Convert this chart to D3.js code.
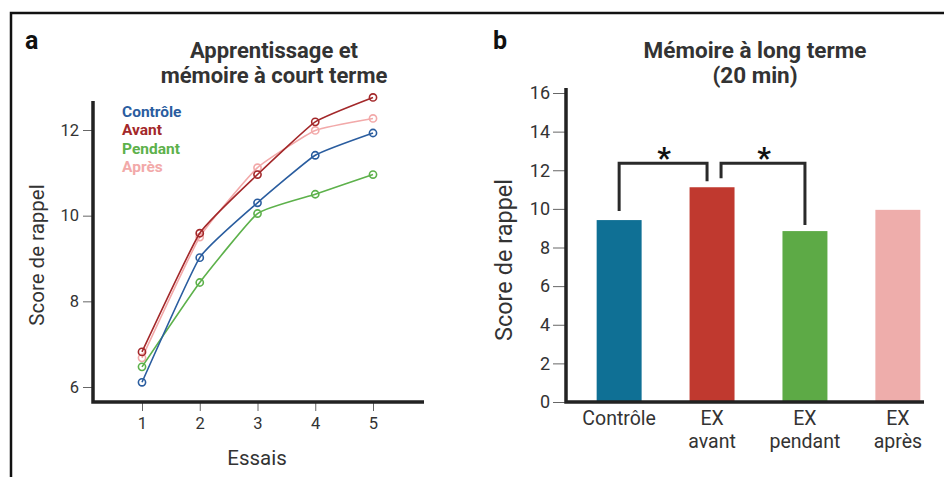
<!DOCTYPE html>
<html>
<head>
<meta charset="utf-8">
<script src="https://cdn.jsdelivr.net/npm/d3@7"></script>
<style>
  body { margin: 0; background: #fff; }
  text { font-family: Roboto, "Liberation Sans", sans-serif; }
</style>
</head>
<body>
<div id="chart"></div>
<script>
// ---- data ----
var trials = [1, 2, 3, 4, 5];
var seriesNames = ["Contrôle", "Avant", "Pendant", "Après"];
var seriesColors = ["#2a5d9f", "#a3282a", "#5db14b", "#f2a9a9"];
var controle = [6.11, 9.02, 10.30, 11.41, 11.93];
var avant    = [6.82, 9.59, 10.96, 12.19, 12.76];
var pendant  = [6.47, 8.44, 10.05, 10.50, 10.96];
var apres    = [6.68, 9.50, 11.12, 11.99, 12.27];
var yTicksA = [6, 8, 10, 12];

var groups = ["Contrôle", "EX avant", "EX pendant", "EX après"];
var groupLabels = [["Contrôle"], ["EX", "avant"], ["EX", "pendant"], ["EX", "après"]];
var groupValues = [9.42, 11.12, 8.85, 9.95];
var groupColors = ["#0f7095", "#c0392f", "#5daa46", "#eeadab"];
var yTicksB = [0, 2, 4, 6, 8, 10, 12, 14, 16];
var signif = [[0, 1], [1, 2]];

var svg = d3.select("#chart").append("svg")
    .attr("width", 944)
    .attr("height", 477);

// frame
svg.append("path")
    .attr("d", "M11,477 L11,13 L944,13")
    .attr("fill", "none")
    .attr("stroke", "#111")
    .attr("stroke-width", 2.5);

var ink = "#333";

//////////////////////////////////////////////
// PANEL A - line chart
//////////////////////////////////////////////
var gA = svg.append("g");

gA.append("text").attr("x", 25).attr("y", 49)
  .style("font-size", "25px").style("font-weight", "bold").attr("fill", "#111").text("a");

gA.append("text").attr("x", 274).attr("y", 58).attr("text-anchor", "middle")
  .style("font-size", "22px").style("font-weight", "bold").attr("fill", ink).text("Apprentissage et");
gA.append("text").attr("x", 274).attr("y", 83).attr("text-anchor", "middle")
  .style("font-size", "22px").style("font-weight", "bold").attr("fill", ink).text("mémoire à court terme");

var xA = d3.scaleLinear().domain([1, 5]).range([142, 373]);
var yA = d3.scaleLinear().domain([6, 12]).range([387, 130]);

// axes
var xAxisA = gA.append("g").attr("transform", "translate(0,402)")
    .call(d3.axisBottom(xA).tickValues(trials).tickFormat(d3.format("d")).tickSize(9).tickPadding(6));
var yAxisA = gA.append("g").attr("transform", "translate(92,0)")
    .call(d3.axisLeft(yA).tickValues(yTicksA).tickFormat(d3.format("d")).tickSize(9).tickPadding(4));
[xAxisA, yAxisA].forEach(function(ax) {
  ax.select(".domain").remove();
  ax.selectAll(".tick line").attr("stroke", "#666").attr("stroke-width", 1);
  ax.selectAll(".tick text").attr("fill", ink).style("font-size", "16.5px").style("font-family", "Roboto");
});

gA.append("path")
    .attr("d", "M93,101 L93,402 L424,402")
    .attr("fill", "none").attr("stroke", "#222").attr("stroke-width", 3.5);

gA.append("text").attr("x", 257).attr("y", 465).attr("text-anchor", "middle")
  .style("font-size", "20.5px").attr("fill", ink).text("Essais");
gA.append("text").attr("transform", "translate(44,255) rotate(-90)").attr("text-anchor", "middle")
  .style("font-size", "20.5px").attr("fill", ink).text("Score de rappel");

var seriesA = [controle, avant, pendant, apres];
var line = d3.line()
    .x(function(d, i) { return xA(trials[i]); })
    .y(function(d) { return yA(d); })
    .curve(d3.curveCardinal.tension(0.6));

// draw pink first so the darker lines sit on top
[3, 2, 0, 1].forEach(function(k) {
  var s = gA.append("g");
  s.append("path").datum(seriesA[k])
    .attr("d", line).attr("fill", "none")
    .attr("stroke", seriesColors[k]).attr("stroke-width", 1.6);
  s.selectAll("circle").data(seriesA[k]).enter().append("circle")
    .attr("cx", function(d, i) { return xA(trials[i]); })
    .attr("cy", function(d) { return yA(d); })
    .attr("r", 3.6)
    .attr("fill", "none")
    .attr("stroke", seriesColors[k]).attr("stroke-width", 1.6);
});

// legend
seriesNames.forEach(function(n, i) {
  gA.append("text").attr("x", 122).attr("y", 117 + i * 18.4)
    .style("font-size", "15.5px").style("font-weight", "bold")
    .attr("fill", seriesColors[i]).text(n);
});

//////////////////////////////////////////////
// PANEL B - bar chart
//////////////////////////////////////////////
var gB = svg.append("g");

gB.append("text").attr("x", 493).attr("y", 49)
  .style("font-size", "25px").style("font-weight", "bold").attr("fill", "#111").text("b");

gB.append("text").attr("x", 755).attr("y", 58).attr("text-anchor", "middle")
  .style("font-size", "22.5px").style("font-weight", "bold").attr("fill", ink).text("Mémoire à long terme");
gB.append("text").attr("x", 755).attr("y", 83).attr("text-anchor", "middle")
  .style("font-size", "22.5px").style("font-weight", "bold").attr("fill", ink).text("(20 min)");

var xB = d3.scaleBand().domain(groups).range([566, 951])
    .paddingInner(0.516).paddingOuter(0.33);
var yB = d3.scaleLinear().domain([0, 16]).range([402, 93]);

var yAxisB = gB.append("g").attr("transform", "translate(565,0)")
    .call(d3.axisLeft(yB).tickValues(yTicksB).tickSize(12).tickPadding(3));
yAxisB.select(".domain").remove();
yAxisB.selectAll(".tick line").attr("stroke", "#666").attr("stroke-width", 1);
yAxisB.selectAll(".tick text").attr("fill", ink).style("font-size", "18px").style("font-family", "Roboto");

gB.append("text").attr("transform", "translate(512,260) rotate(-90)").attr("text-anchor", "middle")
  .style("font-size", "23.5px").attr("fill", ink).text("Score de rappel");

gB.selectAll(".bar").data(groups).enter().append("rect")
    .attr("class", "bar")
    .attr("x", function(d) { return xB(d); })
    .attr("width", xB.bandwidth())
    .attr("y", function(d, i) { return yB(groupValues[i]); })
    .attr("height", function(d, i) { return yB(0) - yB(groupValues[i]); })
    .attr("fill", function(d, i) { return groupColors[i]; });

gB.append("path")
    .attr("d", "M566,88 L566,402 L924,402")
    .attr("fill", "none").attr("stroke", "#222").attr("stroke-width", 3.5);

// category labels
groupLabels.forEach(function(lines, i) {
  var cx = xB(groups[i]) + xB.bandwidth() / 2;
  lines.forEach(function(t, j) {
    gB.append("text").attr("x", cx).attr("y", 425 + j * 23).attr("text-anchor", "middle")
      .style("font-size", "19.5px").attr("fill", ink).text(t);
  });
});

// significance brackets
signif.forEach(function(p, k) {
  var a = p[0], b = p[1];
  var xa = xB(groups[a]) + xB.bandwidth() / 2;
  var xb = xB(groups[b]) + xB.bandwidth() / 2;
  if (k === 0) { xb -= 5; } else { xa += 9; }
  var ya = yB(groupValues[a]), yb = yB(groupValues[b]);
  var top = Math.min(ya, yb, yB(groupValues[1])) - 24;
  gB.append("path")
    .attr("d", "M" + xa + "," + (ya - 9) + " L" + xa + "," + top + " L" + xb + "," + top + " L" + xb + "," + (yb - 6))
    .attr("fill", "none").attr("stroke", "#2a2a2a").attr("stroke-width", 3);
  gB.append("text").attr("x", (xa + xb) / 2 + 1).attr("y", top + 5).attr("text-anchor", "middle")
    .style("font-size", "30px").style("font-weight", "bold").attr("fill", "#111").text("*");
});
</script>
</body>
</html>
